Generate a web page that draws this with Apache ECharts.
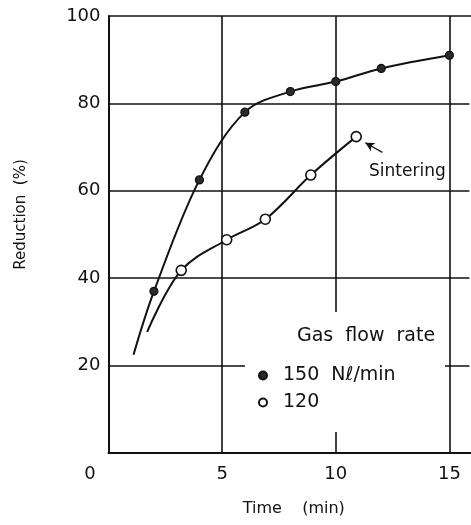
<!DOCTYPE html>
<html>
<head>
<meta charset="utf-8">
<title>Reduction vs time</title>
<script src="https://cdn.jsdelivr.net/npm/echarts@6/dist/echarts.min.js"></script>
<style>
  html, body { margin: 0; padding: 0; background: #fff; }
  #chart { width: 471px; height: 525px; }
</style>
</head>
<body>
<div id="chart"></div>
<script>
// Gas flow rate 150 Nl/min: curve start (no marker) followed by measured points
const timeHigh = [1.1, 2, 4, 6, 8, 10, 12, 15];
const reductionHigh = [22.5, 37, 62.5, 78, 82.7, 85, 88, 91];
// Gas flow rate 120 Nl/min: curve start (no marker) followed by measured points
const timeLow = [1.7, 3.2, 5.2, 6.9, 8.9, 10.9];
const reductionLow = [27.7, 41.8, 48.8, 53.5, 63.6, 72.4];

const xTicks = [0, 5, 10, 15];
const yTicks = [0, 20, 40, 60, 80, 100];

const seriesNames = ['150  Nℓ/min', '120'];
const legendTitle = 'Gas  flow  rate';
const sinteringLabel = 'Sintering';
// arrow pointing at the last 120 point: [tail, head] in axis units
const sinteringArrow = [[12.05, 68.8], [11.3, 71.0]];

const FONT = 'DejaVu Sans';
const INK = '#111';

function toPoints(xs, ys) {
  return xs.map((x, i) => i === 0
    ? { value: [x, ys[i]], symbol: 'none' }
    : [x, ys[i]]);
}

const chart = echarts.init(document.getElementById('chart'), null, { renderer: 'canvas' });

chart.setOption({
  animation: false,
  backgroundColor: '#fff',
  grid: { left: 108.5, top: 16, right: 0, bottom: 72, containLabel: false },
  xAxis: {
    type: 'value',
    min: xTicks[0],
    max: 15.95,
    interval: 5,
    name: 'Time    (min)',
    nameLocation: 'middle',
    nameGap: 48,
    nameTextStyle: { fontFamily: FONT, fontSize: 16, color: INK, padding: [0, 0, 0, 8] },
    axisLine: { show: true, onZero: false, lineStyle: { color: INK, width: 2 } },
    axisTick: { show: false },
    splitLine: { show: true, showMaxLine: false, lineStyle: { color: INK, width: 1.6 } },
    axisLabel: {
      margin: 12,
      fontFamily: FONT, fontSize: 18, color: INK,
      showMaxLabel: false,
      formatter: v => xTicks.indexOf(v) < 0 ? '' : (v === 0 ? '{z|0}' : String(v)),
      rich: { z: { fontFamily: FONT, fontSize: 18, color: INK, padding: [0, 37, 0, 0] } }
    }
  },
  yAxis: {
    type: 'value',
    min: yTicks[0],
    max: yTicks[yTicks.length - 1],
    interval: 20,
    name: 'Reduction  (%)',
    nameLocation: 'middle',
    nameGap: 80,
    nameTextStyle: { fontFamily: FONT, fontSize: 15, color: INK, padding: [0, 0, 0, 40] },
    axisLine: { show: true, onZero: false, lineStyle: { color: INK, width: 2 } },
    axisTick: { show: false },
    splitLine: { show: true, lineStyle: { color: INK, width: 1.6 } },
    axisLabel: {
      margin: 8,
      fontFamily: FONT, fontSize: 18, color: INK,
      formatter: v => v === 0 ? '' : String(v)
    }
  },
  legend: {
    show: true,
    orient: 'vertical',
    left: 253,
    top: 361,
    itemWidth: 30,
    itemHeight: 8,
    itemGap: 8,
    icon: 'circle',
    selectedMode: false,
    textStyle: { fontFamily: FONT, fontSize: 19, color: INK },
    data: seriesNames
  },
  graphic: [
    // blank patch behind the legend block
    { type: 'rect', z: 1, shape: { x: 245, y: 312, width: 200, height: 120 },
      style: { fill: '#fff' }, silent: true },
    // the plot runs on past the right edge: no closing frame line there
    { type: 'rect', z: 1, shape: { x: 469.4, y: 17.5, width: 3, height: 434 },
      style: { fill: '#fff' }, silent: true },
    { type: 'text', z: 5, left: 297, top: 327,
      style: { text: legendTitle, font: '19px "DejaVu Sans"', fill: INK } },
    { type: 'text', z: 5, left: 369, top: 163,
      style: { text: sinteringLabel, font: '17px "DejaVu Sans"', fill: INK } }
  ],
  series: [
    {
      name: seriesNames[0],
      type: 'line',
      smooth: 0.35,
      data: toPoints(timeHigh, reductionHigh),
      symbol: 'circle',
      symbolSize: 8,
      lineStyle: { color: INK, width: 2 },
      itemStyle: { color: '#2a2a2a', borderColor: INK, borderWidth: 1.2 },
      z: 3
    },
    {
      name: seriesNames[1],
      type: 'line',
      smooth: 0.35,
      data: toPoints(timeLow, reductionLow),
      symbol: 'circle',
      symbolSize: 10,
      lineStyle: { color: INK, width: 2 },
      itemStyle: { color: '#fff', borderColor: INK, borderWidth: 1.6 },
      z: 3,
      markLine: {
        silent: true,
        symbol: ['none', 'arrow'],
        symbolSize: [7, 9],
        label: { show: false },
        lineStyle: { color: INK, width: 1.3, type: 'solid' },
        data: [[
          { coord: sinteringArrow[0] },
          { coord: sinteringArrow[1] }
        ]]
      }
    }
  ]
});
</script>
</body>
</html>
